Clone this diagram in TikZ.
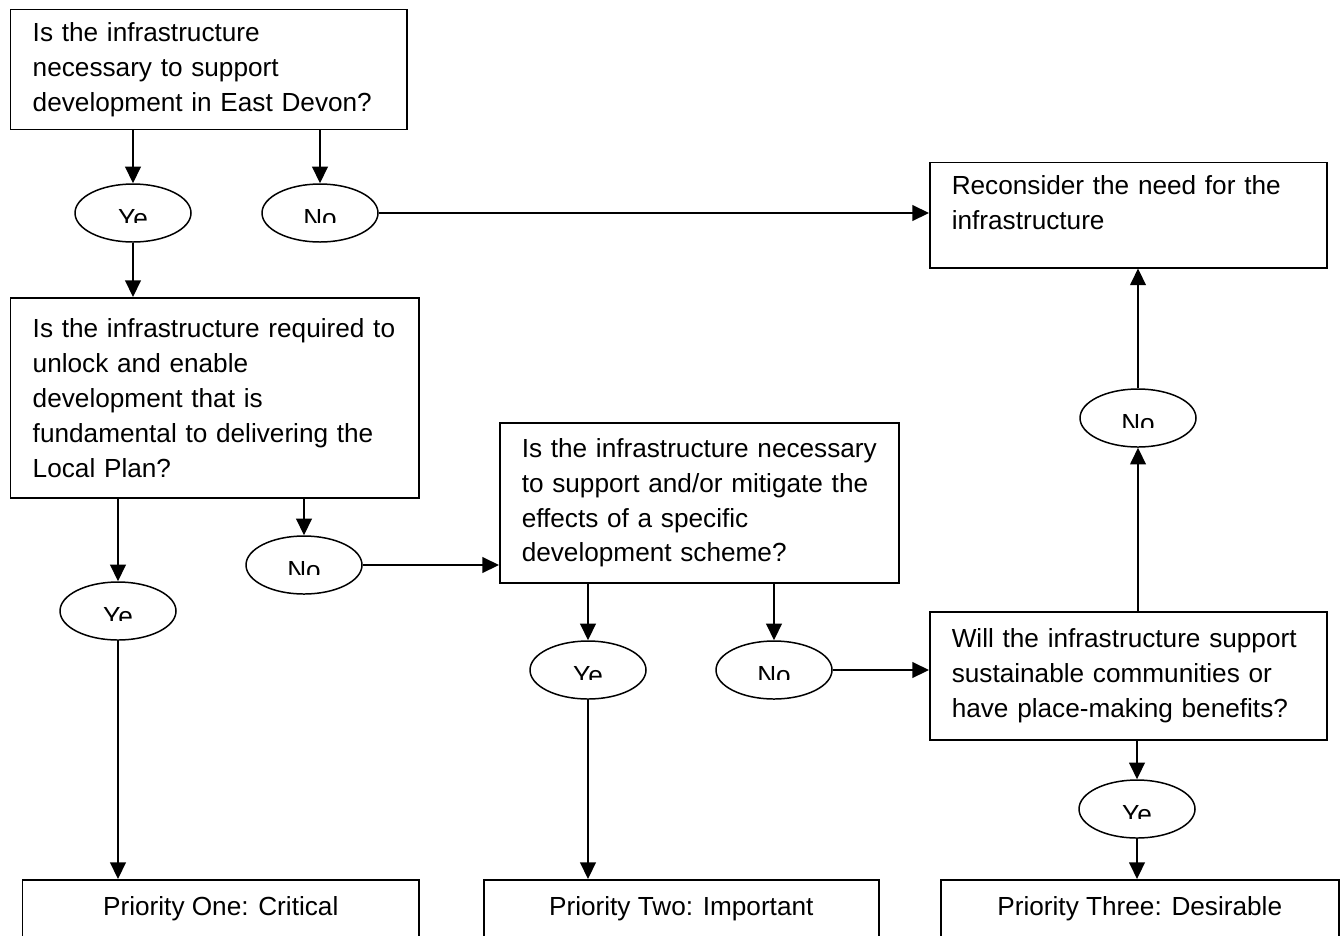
\documentclass[tikz,border=0pt]{standalone}
\usepackage{fontspec}
\setmainfont{Liberation Sans}
\usepackage{tikz}
\usetikzlibrary{shapes.geometric,arrows.meta}

\begin{document}
\begin{tikzpicture}[
		ques/.style={
			draw,
			anchor=north west,
			align=left,
			inner xsep=0.44cm,
			inner ysep=0pt,
			line width=0.85pt,
			font=\fontsize{14.9}{19.9}\selectfont
		},
		prio/.style={
			draw,
			anchor=north west,
			align=center,
			line width=0.85pt,
			minimum height=1.4cm,
			text height=0.46cm,
			text depth=0.42cm,
			font=\fontsize{14.9}{19.9}\selectfont
		},
		ans/.style={
			draw,
			ellipse,
			inner sep=0pt,
			line width=0.85pt,
			minimum width=2.32cm,
			minimum height=1.16cm,
			path picture={
				\clip ([yshift=-0.18cm]path picture bounding box.west) rectangle (path picture bounding box.north east);
				\node[anchor=base, inner sep=0pt, font=\fontsize{14.9}{19.9}\selectfont]
				at ([yshift=-0.29cm]path picture bounding box.center) {#1};
			}
		},
		arr/.style={
			-{Triangle[length=9.5pt,width=9pt]},
			line width=0.85pt
		}
		]
		
		\clip (0, 0cm) rectangle (26.8, -18.7cm);
		
		\node[ques, text width=7.04cm, minimum height=2.4cm] at (0.2, -0.18cm)
		(need) {Is the infrastructure\\necessary to support\\\mbox{development in East Devon?}};
		
		\node[ques, text width=7.28cm, minimum height=4.0cm] at (0.2, -5.94cm)
		(unlock) {\mbox{Is the infrastructure required to}\\unlock and enable\\development that is\\\mbox{fundamental to delivering the}\\Local Plan?};
		
		\node[ques, text width=7.1cm, minimum height=3.2cm] at (9.98, -8.44cm)
		(scheme) {\mbox{Is the infrastructure necessary}\\\mbox{to support and/or mitigate the}\\effects of a specific\\development scheme?};
		
		\node[ques, text width=7.06cm, minimum height=2.56cm] at (18.58, -12.22cm)
		(place) {\mbox{Will the infrastructure support}\\sustainable communities or\\\mbox{have place-making benefits?}};
		
		\node[ques, text width=7.06cm, minimum height=2.1cm] at (18.58, -3.24cm)
		(recon) {\mbox{Reconsider the need for the}\\infrastructure\rule[-0.5cm]{0pt}{0pt}};
		
		\node[ans=Ye] at (2.66, -4.26cm) (y1) {};
		\node[ans=No] at (6.4, -4.26cm) (n1) {};
		\node[ans=No] at (6.08, -11.3cm) (n2) {};
		\node[ans=Ye] at (2.36, -12.22cm) (y2) {};
		\node[ans=Ye] at (11.76, -13.4cm) (y3) {};
		\node[ans=No] at (15.48, -13.4cm) (n3) {};
		\node[ans=No] at (22.76, -8.36cm) (n4) {};
		\node[ans=Ye] at (22.74, -16.18cm) (y4) {};
		
		\node[prio, minimum width=7.92cm] at (0.44, -17.58cm)
		(p1) {Priority One: Critical};
		\node[prio, minimum width=7.9cm] at (9.66, -17.58cm)
		(p2) {Priority Two: Important};
		\node[prio, minimum width=7.96cm] at (18.8, -17.58cm)
		(p3) {Priority Three: Desirable};
		
		\draw[arr] (y1 |- need.south) -- (y1);
		\draw[arr] (n1 |- need.south) -- (n1);
		\draw[arr] (y1) -- (y1 |- unlock.north);
		\draw[arr] (n1) -- (n1 -| recon.west);
		\draw[arr] (y2 |- unlock.south) -- (y2);
		\draw[arr] (n2 |- unlock.south) -- (n2);
		\draw[arr] (n2) -- (n2 -| scheme.west);
		\draw[arr] (y2) -- (y2 |- p1.north);
		\draw[arr] (y3 |- scheme.south) -- (y3);
		\draw[arr] (n3 |- scheme.south) -- (n3);
		\draw[arr] (y3) -- (y3 |- p2.north);
		\draw[arr] (n3) -- (n3 -| place.west);
		\draw[arr] (n4 |- place.north) -- (n4);
		\draw[arr] (n4) -- (n4 |- recon.south);
		\draw[arr] (y4 |- place.south) -- (y4);
		\draw[arr] (y4) -- (y4 |- p3.north);
		
		\end{tikzpicture}
\end{document}
